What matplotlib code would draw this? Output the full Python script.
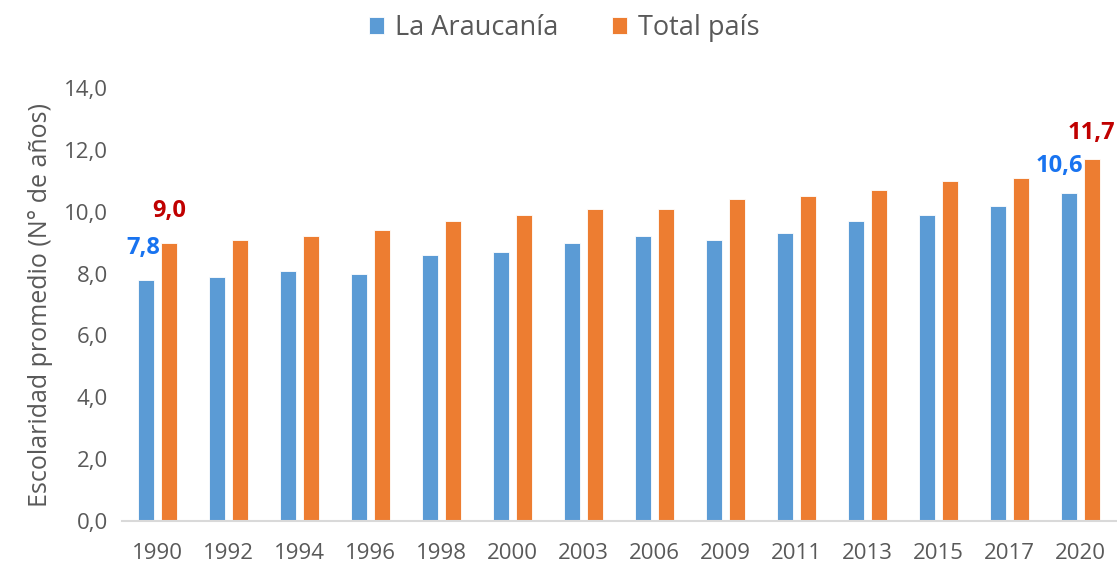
import matplotlib
matplotlib.use("Agg")
import matplotlib.pyplot as plt
import numpy as np
from matplotlib import font_manager

years = ["1990", "1992", "1994", "1996", "1998", "2000", "2003", "2006",
         "2009", "2011", "2013", "2015", "2017", "2020"]
araucania = [7.8, 7.9, 8.1, 8.0, 8.6, 8.7, 9.0, 9.2, 9.1, 9.3, 9.7, 9.9, 10.2, 10.6]
total_pais = [9.0, 9.1, 9.2, 9.4, 9.7, 9.9, 10.1, 10.1, 10.4, 10.5, 10.7, 11.0, 11.1, 11.7]
series_names = ["La Araucanía", "Total país"]
y_ticks = [0, 2, 4, 6, 8, 10, 12, 14]

avail = {f.name for f in font_manager.fontManager.ttflist}
fam = [f for f in ["Liberation Sans Narrow", "Open Sans", "DejaVu Sans"] if f in avail]
plt.rcParams['font.family'] = fam + ["DejaVu Sans"]

BLUE = "#5B9BD5"
ORANGE = "#ED7D31"
GRAY = "#595959"

fig = plt.figure(figsize=(11.17, 5.68), dpi=100)
ax = fig.add_axes([0.109, 0.0827, 0.89, 0.7623])

x = np.arange(len(years))
w = 0.22
off = 0.162
b1 = ax.bar(x - off, araucania, w, color=BLUE, edgecolor="white", linewidth=0.6, label=series_names[0])
b2 = ax.bar(x + off, total_pais, w, color=ORANGE, edgecolor="white", linewidth=0.6, label=series_names[1])

ax.set_xlim(-0.5, len(years) - 0.5)
ax.set_ylim(0, 14)
ax.set_yticks(y_ticks)
ax.set_yticklabels([f"{v:.1f}".replace(".", ",") for v in y_ticks], fontsize=16, color=GRAY)
ax.set_xticks(x)
ax.set_xticklabels(years, fontsize=16, color=GRAY)
ax.tick_params(axis='both', length=0)
ax.tick_params(axis='x', pad=16)
ax.tick_params(axis='y', pad=10)
for s in ["top", "right", "left"]:
    ax.spines[s].set_visible(False)
ax.spines["bottom"].set_color("#D9D9D9")
ax.spines["bottom"].set_linewidth(1.5)

ax.set_ylabel("Escolaridad promedio (N° de años)", fontsize=18, color=GRAY, labelpad=8)

def fmt(v):
    return f"{v:.1f}".replace(".", ",")

# data labels for first and last
ax.annotate(fmt(araucania[0]), (x[0] - off, araucania[0]), xytext=(-2, 14), textcoords="offset points",
            ha="center", va="bottom", fontsize=17, fontweight="bold", color="#1873F0")
ax.annotate(fmt(total_pais[0]), (x[0] + off, total_pais[0]), xytext=(0, 14), textcoords="offset points",
            ha="center", va="bottom", fontsize=17, fontweight="bold", color="#C00000")
ax.annotate(fmt(araucania[-1]), (x[-1] - off, araucania[-1]), xytext=(-7, 11), textcoords="offset points",
            ha="center", va="bottom", fontsize=17, fontweight="bold", color="#1873F0")
ax.annotate(fmt(total_pais[-1]), (x[-1] + off, total_pais[-1]), xytext=(0, 10), textcoords="offset points",
            ha="center", va="bottom", fontsize=17, fontweight="bold", color="#C00000")

leg = fig.legend(handles=[b1, b2], labels=series_names, loc="upper center", bbox_to_anchor=(0.505, 1.018),
                 ncol=2, frameon=False, fontsize=19.5, handlelength=0.55, handleheight=0.55,
                 handletextpad=0.4, columnspacing=2.0)
for t in leg.get_texts():
    t.set_color(GRAY)

fig.savefig("out.png", dpi=100)
